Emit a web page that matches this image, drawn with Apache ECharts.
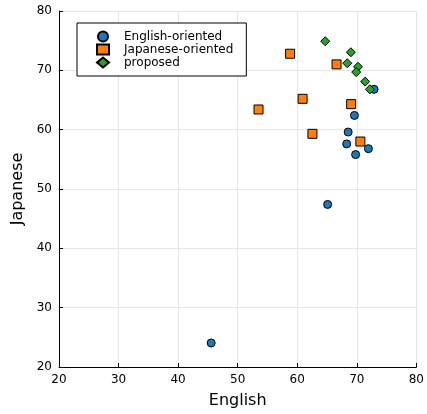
<!DOCTYPE html>
<html><head><meta charset="utf-8">
<script src="https://cdn.jsdelivr.net/npm/echarts@6/dist/echarts.min.js"></script>
<style>html,body{margin:0;padding:0;background:#fff}#c{width:427px;height:414px}</style>
</head><body><div id="c"></div>
<script>
const seriesNames = ["English-oriented", "Japanese-oriented", "proposed"];
const englishX = [72.9, 69.6, 68.55, 68.3, 71.95, 69.8, 65.1, 45.55];
const englishY = [66.8, 62.4, 59.6, 57.6, 56.8, 55.8, 47.4, 24.05];
const japaneseX = [58.8, 66.6, 60.9, 53.5, 69.05, 62.55, 70.6];
const japaneseY = [72.8, 71.0, 65.2, 63.4, 64.3, 59.3, 58.0];
const proposedX = [64.7, 69.0, 68.4, 70.2, 69.9, 71.4, 72.2];
const proposedY = [74.9, 73.05, 71.2, 70.6, 69.7, 68.1, 66.8];
const ticks = [20, 30, 40, 50, 60, 70, 80];

const zip = (xs, ys) => xs.map((x, i) => [x, ys[i]]);
const font = 'DejaVu Sans';
const axisCommon = (name) => ({
  type: 'value', min: ticks[0], max: ticks[ticks.length - 1], interval: 10,
  name: name, nameLocation: 'middle',
  nameTextStyle: { fontFamily: font, fontSize: 16, color: '#000' },
  axisLine: { show: true, onZero: false, lineStyle: { color: '#000', width: 1 } },
  axisTick: { show: true, inside: true, length: 4, lineStyle: { color: '#000' } },
  axisLabel: { fontFamily: font, fontSize: 12, color: '#000', margin: 7 },
  splitLine: { show: true, lineStyle: { color: '#e6e6e6', width: 1 } }
});
const chart = echarts.init(document.getElementById('c'), null, { renderer: 'canvas' });
const x = axisCommon('English'); x.nameGap = 26;
const y = axisCommon('Japanese'); y.nameGap = 33;
chart.setOption({
  animation: false,
  backgroundColor: '#fff',
  grid: { left: 59, top: 11, width: 360, height: 360, containLabel: false },
  xAxis: x,
  yAxis: y,
  legend: {
    orient: 'vertical', left: 77, top: 23,
    backgroundColor: '#fff', borderColor: '#000', borderWidth: 1, borderRadius: 0,
    padding: [7, 13, 7, 19], itemGap: 0, itemWidth: 12, itemHeight: 10,
    textStyle: { fontFamily: font, fontSize: 12, lineHeight: 13, color: '#000', padding: [0, 0, 0, 10] },
    data: seriesNames
  },
  series: [
    { name: seriesNames[0], type: 'scatter', symbol: 'circle', symbolSize: 8,
      itemStyle: { color: '#1f77b4', borderColor: '#000', borderWidth: 1, opacity: 1 }, data: zip(englishX, englishY) },
    { name: seriesNames[1], type: 'scatter', symbol: 'rect', symbolSize: 9,
      itemStyle: { color: '#ff7f0e', borderColor: '#000', borderWidth: 1, opacity: 1 }, data: zip(japaneseX, japaneseY) },
    { name: seriesNames[2], type: 'scatter', symbol: 'diamond', symbolSize: 9,
      itemStyle: { color: '#2ca02c', borderColor: '#000', borderWidth: 1, opacity: 1 }, data: zip(proposedX, proposedY) }
  ]
});
</script></body></html>
